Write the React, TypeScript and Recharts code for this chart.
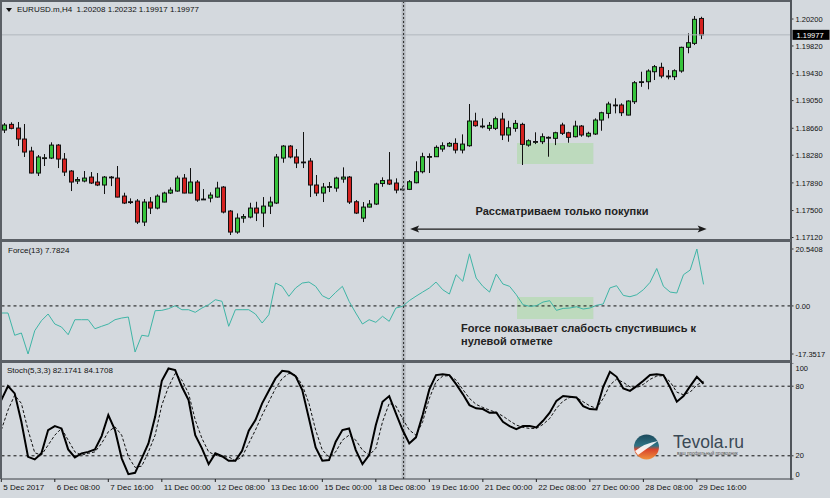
import React from 'react';
import { ComposedChart, Bar, Line, XAxis, YAxis, ReferenceLine, ReferenceArea } from 'recharts';

// ---------- data (EURUSD.m, H4) ----------
const openP = [
  1.18635, 1.18715, 1.18663, 1.18508, 1.18339, 1.18029, 1.18233, 1.18240, 1.18423, 1.18226,
  1.18057, 1.17916, 1.17916, 1.17972, 1.17902, 1.17860, 1.17972, 1.17958, 1.17704, 1.17624,
  1.17634, 1.17338, 1.17620, 1.17535, 1.17620, 1.17747, 1.17775, 1.17958, 1.17747, 1.17902,
  1.17658, 1.17676, 1.17690, 1.17831, 1.17493, 1.17197, 1.17394, 1.17408, 1.17535, 1.17465,
  1.17563, 1.17606, 1.18240, 1.18409, 1.18255, 1.18184, 1.18198, 1.17860, 1.17747, 1.17831,
  1.17817, 1.17944, 1.17972, 1.17624, 1.17394, 1.17549, 1.17592, 1.17881, 1.17930, 1.17888,
  1.17803, 1.17799, 1.17892, 1.18047, 1.18255, 1.18259, 1.18367, 1.18409, 1.18447, 1.18353,
  1.18414, 1.18762, 1.18691, 1.18659, 1.18659, 1.18790, 1.18565, 1.18659, 1.18715, 1.18423,
  1.18470, 1.18470, 1.18527, 1.18518, 1.18706, 1.18597, 1.18541, 1.18691, 1.18550, 1.18579,
  1.18776, 1.18870, 1.18988, 1.18988, 1.18846, 1.19034, 1.19312, 1.19316, 1.19457, 1.19519,
  1.19396, 1.19387, 1.19467, 1.19801, 1.19857, 1.20208,
];
const highP = [
  1.18734, 1.18744, 1.18748, 1.18720, 1.18399, 1.18283, 1.18297, 1.18462, 1.18437, 1.18311,
  1.18071, 1.17972, 1.18057, 1.18043, 1.18029, 1.17987, 1.17987, 1.18128, 1.17751, 1.17672,
  1.17662, 1.17662, 1.17690, 1.17728, 1.17765, 1.17827, 1.17991, 1.18015, 1.18099, 1.17930,
  1.17803, 1.17757, 1.17906, 1.17845, 1.17507, 1.17460, 1.17451, 1.17610, 1.17624, 1.17690,
  1.17695, 1.18297, 1.18423, 1.18423, 1.18367, 1.18607, 1.18240, 1.18001, 1.17888, 1.17902,
  1.17977, 1.18109, 1.17987, 1.17648, 1.17620, 1.17648, 1.17892, 1.17968, 1.18325, 1.17954,
  1.17845, 1.17930, 1.18194, 1.18315, 1.18306, 1.18419, 1.18462, 1.18466, 1.18518, 1.18574,
  1.19002, 1.18879, 1.18800, 1.18748, 1.18823, 1.18879, 1.18766, 1.18776, 1.18738, 1.18504,
  1.18603, 1.18588, 1.18546, 1.18611, 1.18738, 1.18611, 1.18766, 1.18706, 1.18611, 1.18800,
  1.18893, 1.19034, 1.19082, 1.19012, 1.19054, 1.19326, 1.19457, 1.19491, 1.19552, 1.19584,
  1.19481, 1.19491, 1.19810, 1.19998, 1.20242, 1.20232,
];
const lowP = [
  1.18593, 1.18645, 1.18409, 1.18255, 1.18024, 1.17987, 1.18128, 1.18226, 1.18099, 1.17987,
  1.17775, 1.17874, 1.17898, 1.17874, 1.17845, 1.17733, 1.17845, 1.17686, 1.17592, 1.17592,
  1.17310, 1.17282, 1.17451, 1.17517, 1.17616, 1.17733, 1.17765, 1.17743, 1.17743, 1.17624,
  1.17652, 1.17616, 1.17681, 1.17460, 1.17155, 1.17173, 1.17328, 1.17390, 1.17352, 1.17267,
  1.17451, 1.17592, 1.18174, 1.18236, 1.18099, 1.18099, 1.17690, 1.17704, 1.17620, 1.17761,
  1.17765, 1.17892, 1.17592, 1.17451, 1.17338, 1.17545, 1.17578, 1.17835, 1.17860, 1.17743,
  1.17775, 1.17789, 1.17884, 1.18024, 1.18029, 1.18255, 1.18329, 1.18395, 1.18306, 1.18306,
  1.18400, 1.18682, 1.18659, 1.18625, 1.18635, 1.18494, 1.18470, 1.18611, 1.18142, 1.18400,
  1.18437, 1.18437, 1.18259, 1.18423, 1.18565, 1.18456, 1.18532, 1.18541, 1.18532, 1.18565,
  1.18625, 1.18800, 1.18870, 1.18832, 1.18842, 1.19002, 1.19244, 1.19209, 1.19340, 1.19364,
  1.19350, 1.19340, 1.19443, 1.19717, 1.19833, 1.19917,
];
const closeP = [
  1.18706, 1.18659, 1.18508, 1.18325, 1.18029, 1.18255, 1.18244, 1.18423, 1.18226, 1.18043,
  1.17902, 1.17937, 1.17958, 1.17888, 1.17860, 1.17972, 1.17965, 1.17690, 1.17606, 1.17620,
  1.17338, 1.17620, 1.17535, 1.17704, 1.17747, 1.17789, 1.17958, 1.17747, 1.17902, 1.17648,
  1.17662, 1.17718, 1.17817, 1.17479, 1.17197, 1.17394, 1.17415, 1.17535, 1.17465, 1.17563,
  1.17620, 1.18255, 1.18409, 1.18255, 1.18170, 1.18177, 1.17860, 1.17747, 1.17831, 1.17838,
  1.17958, 1.17972, 1.17620, 1.17465, 1.17549, 1.17592, 1.17874, 1.17923, 1.17874, 1.17789,
  1.17799, 1.17906, 1.18047, 1.18259, 1.18262, 1.18391, 1.18414, 1.18447, 1.18353, 1.18437,
  1.18762, 1.18696, 1.18687, 1.18701, 1.18794, 1.18565, 1.18667, 1.18729, 1.18433, 1.18484,
  1.18473, 1.18541, 1.18532, 1.18597, 1.18589, 1.18532, 1.18691, 1.18565, 1.18589, 1.18776,
  1.18879, 1.19002, 1.18983, 1.18879, 1.19044, 1.19302, 1.19316, 1.19467, 1.19528, 1.19396,
  1.19392, 1.19471, 1.19801, 1.19866, 1.20196, 1.19977,
];
const forceVals = [
  -2.56, -2.56, -10.6, -9.78, -17.3517, -8.95, -5.34, -2.92, -6.53, -7.61,
  -10.39, -4.98, -4.98, -4.98, -8.23, -7.36, -6.53, -4.98, -4.37, -4.01,
  -16.64, -10.6, -10.97, -1.73, -1.6, -1.0, 0.07, -1.37, -1.37, -2.31,
  -0.76, 0.43, 2.24, 1.66, -7.36, -1.37, -1.37, -1.37, -2.92, -6.17,
  -3.18, 8.26, 7.07, 3.46, 6.46, 8.26, 8.62, 7.07, 3.68, 2.49,
  4.9, 7.07, 1.66, -2.56, -6.53, -4.98, -5.92, -3.75, -5.56, -0.76,
  -0.14, 1.9, 3.5, 5.0, 6.46, 8.6, 5.85, 4.29, 11.27, 8.87,
  18.8, 10.07, 7.07, 5.0, 11.5, 7.9, 7.07, 4.04, 0.43, -0.14,
  0.07, 1.4, 1.88, -1.6, -0.9, -0.76, -0.29, -1.12, -0.76, 0.22,
  0.69, 6.5, 7.3, 3.8, 3.32, 4.04, 5.85, 8.5, 13.5, 7.07,
  5.0, 4.66, 11.27, 12.95, 20.5408, 7.7824,
];
const stochMain = [
  68.0, 80.1, 73.8, 49.3, 19.1, 16.9, 22.1, 42.2, 45.6, 43.6,
  25.5, 18.6, 22.1, 23.4, 25.5, 37.0, 55.1, 42.2, 17.8, 4.2,
  5.3, 17.8, 30.7, 53.6, 84.7, 95.3, 93.9, 79.5, 68.0, 37.8,
  26.4, 12.8, 22.1, 19.7, 15.7, 15.7, 24.3, 41.6, 50.8, 65.2,
  76.0, 86.7, 93.3, 92.4, 88.7, 76.6, 52.2, 27.2, 15.7, 16.3,
  32.1, 42.2, 43.6, 24.9, 12.8, 20.6, 46.5, 66.6, 71.5, 56.5,
  42.2, 30.7, 35.9, 55.1, 77.2, 89.6, 90.4, 89.6, 81.8, 73.2,
  63.7, 60.9, 60.3, 57.1, 57.4, 49.3, 45.6, 43.0, 45.6, 45.6,
  44.5, 50.2, 57.1, 67.4, 71.5, 70.9, 70.3, 62.8, 60.3, 60.0,
  79.5, 92.4, 88.1, 78.1, 76.0, 80.1, 84.7, 89.6, 90.4, 89.6,
  79.0, 66.6, 71.5, 80.1, 88.1, 82.1741,
];
const stochSignal = [
  42.2, 59.4, 72.3, 65.2, 42.2, 22.6, 20.6, 29.2, 37.8, 43.6,
  33.5, 23.4, 20.6, 22.1, 23.4, 30.7, 40.7, 45.0, 37.8, 19.1,
  10.0, 11.1, 23.4, 37.8, 63.7, 79.5, 91.0, 85.3, 73.8, 50.8,
  35.0, 23.4, 20.6, 19.1, 19.1, 15.7, 19.1, 30.7, 42.2, 55.1,
  66.6, 78.1, 86.7, 91.0, 89.6, 81.0, 65.2, 42.2, 24.9, 19.1,
  23.4, 33.5, 37.8, 33.5, 24.9, 20.6, 26.4, 49.3, 65.2, 63.0,
  52.0, 42.2, 37.8, 49.3, 69.5, 83.8, 88.7, 89.1, 85.3, 77.2,
  69.5, 64.3, 61.7, 59.4, 57.4, 54.2, 50.2, 46.5, 44.5, 43.6,
  43.6, 47.1, 52.2, 60.9, 67.2, 70.3, 70.3, 66.6, 63.0, 60.9,
  69.5, 81.0, 86.1, 83.3, 79.5, 78.7, 81.6, 85.9, 88.7, 89.1,
  83.8, 74.9, 72.6, 74.9, 81.0, 84.1708,
];
const priceTicks = [1.1712, 1.175, 1.1789, 1.1828, 1.1866, 1.1905, 1.1943, 1.1982, 1.202];
const forceTicks = [20.5408, 0, -17.3517];
const stochTicks = [0, 20, 80, 100];
const dateLabels = [
  '5 Dec 2017', '6 Dec 08:00', '7 Dec 16:00', '11 Dec 00:00', '12 Dec 08:00', '13 Dec 16:00',
  '15 Dec 00:00', '18 Dec 08:00', '19 Dec 16:00', '21 Dec 00:00', '22 Dec 08:00',
  '27 Dec 00:00', '28 Dec 08:00', '29 Dec 16:00',
];
const dateBars = [0, 8, 16, 24, 32, 40, 48, 56, 64, 72, 80, 88, 96, 104];
const lastPrice = 1.19977;

// ---------- layout ----------
const SLOTS = 119; // 106 bars + chart shift
const BG = '#d4d9de';
const FONT = '"Liberation Sans", Arial, sans-serif';
const MARGIN = { top: 0, right: 0, bottom: 0, left: 1.3 };
const AXIS_W = 39.5;

const rows = Array.from({ length: SLOTS }, (_, i) => {
  if (i >= openP.length) return { idx: i } as any;
  return {
    idx: i,
    o: openP[i], h: highP[i], l: lowP[i], c: closeP[i],
    range: [lowP[i], highP[i]],
    force: forceVals[i],
    k: stochMain[i],
    d: stochSignal[i],
  };
});
const labelAt: Record<number, string> = {};
dateBars.forEach((b, j) => { labelAt[b] = dateLabels[j]; });

const Candle = (props: any) => {
  const { x, y, width, height, payload } = props;
  if (!payload || payload.o == null || !isFinite(y) || !isFinite(height)) return null;
  const top = Math.min(y, y + height);
  const span = Math.abs(height);
  const { o, h, l, c } = payload;
  const k = h - l > 0 ? span / (h - l) : 0;
  const yO = top + (h - o) * k;
  const yC = top + (h - c) * k;
  const cx = Math.round(x + width / 2) + 0.5;
  const bt = Math.min(yO, yC);
  const bb = Math.max(yO, yC);
  const up = c >= o;
  return (
    <g>
      <line x1={cx} x2={cx} y1={top} y2={top + span} stroke="#111" strokeWidth={1} />
      <rect x={cx - 2} y={bt} width={4} height={Math.max(bb - bt, 0.8)}
        fill={up ? '#36c43c' : '#d42220'} stroke="#111" strokeWidth={1} />
    </g>
  );
};

const PriceTag = (props: any) => {
  const vb = props.viewBox || {};
  const x = (vb.x || 0) + (vb.width || 0) + 2;
  const y = vb.y || 0;
  return (
    <g>
      <rect x={x} y={y - 5} width={37} height={10} fill="#000" />
      <text x={x + 4} y={y + 3} fill="#fff" fontSize={7.5} fontFamily={FONT}>{lastPrice.toFixed(5)}</text>
    </g>
  );
};

const Arrow = (p: any) => {
  const { x1, y1, x2 } = p;
  if (!isFinite(x1) || !isFinite(x2)) return null;
  const y = y1;
  return (
    <g>
      <line x1={x1 + 5} y1={y} x2={x2 - 5} y2={y} stroke="#1b1b1b" strokeWidth={1.3} />
      <path d={`M${x1},${y} L${x1 + 9},${y - 3.5} L${x1 + 7},${y} L${x1 + 9},${y + 3.5} Z`} fill="#1b1b1b" />
      <path d={`M${x2},${y} L${x2 - 9},${y - 3.5} L${x2 - 7},${y} L${x2 - 9},${y + 3.5} Z`} fill="#1b1b1b" />
    </g>
  );
};

const StochTick = (p: any) => {
  const { x, y, payload } = p;
  const v = payload.value;
  const dy = v === 100 ? 5 : v === 0 ? -5 : 0;
  return (
    <text x={x} y={y + dy} dy="0.35em" fontSize={7.5} fill="#111" fontFamily={FONT}>{v}</text>
  );
};

const DateTick = (p: any) => {
  const { x, y, payload } = p;
  const label = labelAt[payload.value];
  if (!label) return null;
  return (
    <g>
      <line x1={x} x2={x} y1={y - 5} y2={y - 2} stroke="#222" strokeWidth={1} />
      <text x={x + 2} y={y + 6} fontSize={8} fill="#111" fontFamily={FONT}>{label}</text>
    </g>
  );
};

const yTickStyle = { fontSize: 7.5, fill: '#111', fontFamily: FONT };

const markerLines = [
  <ReferenceLine key="vm1" xAxisId="n" x={60.15} stroke="#9aa0a7" strokeWidth={4} strokeOpacity={0.55} />,
  <ReferenceLine key="vm2" xAxisId="n" x={60.15} stroke="#2a2a2a" strokeWidth={1} strokeDasharray="2 2" />,
];

export default function App() {
  return (
    <div style={{ position: 'absolute', left: 0, top: 0, width: 830, height: 498, background: BG, overflow: 'hidden', fontFamily: FONT }}>
      {/* main price pane (plot area y 2..239, extra bottom margin keeps the lowest label visible) */}
      <div style={{ position: 'absolute', left: 0, top: 2 }}>
        <ComposedChart width={830} height={247} data={rows} margin={{ ...MARGIN, bottom: 10 }}>
          <XAxis dataKey="idx" hide />
          <XAxis xAxisId="n" type="number" domain={[-0.5, 118.5]} hide allowDataOverflow />
          <YAxis orientation="right" width={AXIS_W} domain={[1.17099, 1.2044]} allowDataOverflow
            ticks={priceTicks} interval={0} tickFormatter={(v: number) => v.toFixed(5)}
            tick={yTickStyle} tickSize={3} tickMargin={2} axisLine={false} tickLine={{ stroke: '#333' }} />
          <ReferenceArea xAxisId="n" x1={77.11} x2={88.52} y1={1.18156} y2={1.18452}
            fill="#a6dc9c" fillOpacity={0.5} stroke="none" />
          <ReferenceLine y={lastPrice} stroke="#b2b7bd" strokeWidth={1} label={<PriceTag />} />
          {markerLines}
          <Bar dataKey="range" shape={(p: any) => <Candle {...p} />} isAnimationActive={false} />
          <ReferenceLine xAxisId="n" segment={[{ x: 61.13, y: 1.17239 }, { x: 105.46, y: 1.17239 }]}
            stroke="#1b1b1b" shape={(p: any) => <Arrow {...p} />} />
        </ComposedChart>
      </div>

      {/* Force pane */}
      <div style={{ position: 'absolute', left: 0, top: 242 }}>
        <ComposedChart width={830} height={118} data={rows} margin={MARGIN}>
          <XAxis dataKey="idx" hide />
          <XAxis xAxisId="n" type="number" domain={[-0.5, 118.5]} hide allowDataOverflow />
          <YAxis orientation="right" width={AXIS_W} domain={[-19.52, 23.07]} allowDataOverflow
            ticks={forceTicks} interval={0} tickFormatter={(v: number) => (v === 0 ? '0.00' : String(v))}
            tick={yTickStyle} tickSize={3} tickMargin={2} axisLine={false} tickLine={{ stroke: '#333' }} />
          <ReferenceArea xAxisId="n" x1={77.11} x2={88.52} y1={-4.73} y2={3.21}
            fill="#a6dc9c" fillOpacity={0.5} stroke="none" />
          <ReferenceLine y={0} stroke="#111" strokeDasharray="3 3" strokeWidth={1} />
          {markerLines}
          <Line dataKey="force" type="linear" stroke="#3fb5a6" strokeWidth={1} dot={false} isAnimationActive={false} />
        </ComposedChart>
      </div>

      {/* Stochastic pane */}
      <div style={{ position: 'absolute', left: 0, top: 363 }}>
        <ComposedChart width={830} height={135} data={rows} margin={MARGIN}>
          <XAxis dataKey="idx" height={19} interval={7} tick={<DateTick />} tickSize={3} tickMargin={2}
            tickLine={false} axisLine={{ stroke: '#3a3f45', strokeWidth: 1 }} />
          <XAxis xAxisId="n" type="number" domain={[-0.5, 118.5]} hide allowDataOverflow />
          <YAxis orientation="right" width={AXIS_W} domain={[0, 100]} allowDataOverflow
            ticks={stochTicks} interval={0} tick={<StochTick />} tickSize={3} tickMargin={2}
            axisLine={false} tickLine={{ stroke: '#333' }} />
          <ReferenceLine y={80} stroke="#111" strokeDasharray="3 3" strokeWidth={1} />
          <ReferenceLine y={20} stroke="#111" strokeDasharray="3 3" strokeWidth={1} />
          {markerLines}
          <Line dataKey="d" type="linear" stroke="#111" strokeWidth={1} strokeDasharray="3 2" dot={false} isAnimationActive={false} />
          <Line dataKey="k" type="linear" stroke="#000" strokeWidth={2} dot={false} isAnimationActive={false} />
        </ComposedChart>
      </div>

      {/* frame */}
      <div style={{ position: 'absolute', left: 0, top: 0, width: 792, height: 2, background: '#5b6066' }} />
      <div style={{ position: 'absolute', left: 0, top: 0, width: 2, height: 479, background: '#5b6066' }} />
      <div style={{ position: 'absolute', left: 789.5, top: 0, width: 2, height: 480, background: '#50555b' }} />
      <div style={{ position: 'absolute', left: 0, top: 239, width: 791, height: 3, background: '#5b6066' }} />
      <div style={{ position: 'absolute', left: 0, top: 360, width: 791, height: 3, background: '#5b6066' }} />

      {/* pane titles */}
      <svg style={{ position: 'absolute', left: 6, top: 8 }} width={6} height={5}>
        <path d="M0,0 L6,0 L3,4 Z" fill="#111" />
      </svg>
      <div style={{ position: 'absolute', left: 17, top: 5, fontSize: 8, lineHeight: '10px', color: '#111', whiteSpace: 'pre' }}>
        {'EURUSD.m,H4  1.20208 1.20232 1.19917 1.19977'}
      </div>
      <div style={{ position: 'absolute', left: 8, top: 246, fontSize: 8, lineHeight: '10px', color: '#111', whiteSpace: 'pre' }}>
        {'Force(13) 7.7824'}
      </div>
      <div style={{ position: 'absolute', left: 7, top: 366, fontSize: 8, lineHeight: '10px', color: '#111', whiteSpace: 'pre' }}>
        {'Stoch(5,3,3) 82.1741 84.1708'}
      </div>

      {/* annotations */}
      <div style={{ position: 'absolute', left: 462, top: 205, width: 200, textAlign: 'center', fontSize: 11, fontWeight: 'bold', lineHeight: '13px', color: '#222', whiteSpace: 'nowrap' }}>
        Рассматриваем только покупки
      </div>
      <div style={{ position: 'absolute', left: 461, top: 322, fontSize: 11, fontWeight: 'bold', lineHeight: '13px', color: '#222', whiteSpace: 'nowrap' }}>
        Force показывает слабость спустившись к<br />нулевой отметке
      </div>

      {/* watermark */}
      <svg style={{ position: 'absolute', left: 630, top: 430 }} width={130} height={30}>
        <defs>
          <linearGradient id="tvg" x1="0" y1="0" x2="0" y2="1">
            <stop offset="0" stopColor="#1c4a5c" />
            <stop offset="0.45" stopColor="#2f7385" />
            <stop offset="0.6" stopColor="#d8452c" />
            <stop offset="1" stopColor="#f0913c" />
          </linearGradient>
        </defs>
        <circle cx={16.5} cy={17} r={12.5} fill="url(#tvg)" />
        <path d="M5,21 Q15,13 28,11 Q19,17 8,25 Z" fill="#fff" fillOpacity={0.9} />
        <text x={43} y={17.7} fontSize={17.5} fill="#3b4955" fontFamily={FONT}>Tevola.ru</text>
        <text x={47} y={25} fontSize={4.6} fill="#555" fontFamily={FONT}>ваш профильный проводник</text>
      </svg>
    </div>
  );
}
